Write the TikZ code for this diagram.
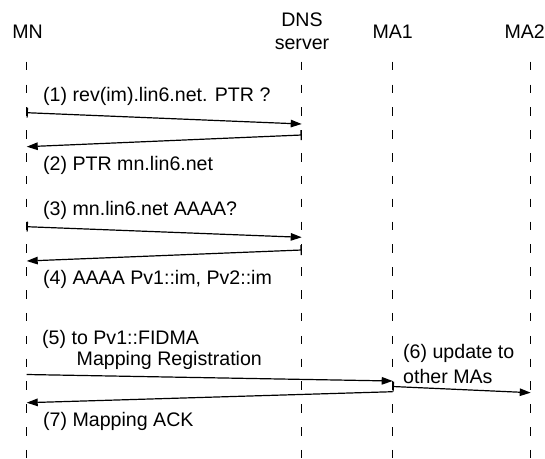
\documentclass[tikz,border=0pt]{standalone}
\usepackage{fontspec}
\setmainfont{Liberation Sans}
\usetikzlibrary{arrows.meta}
\begin{document}
\begin{tikzpicture}[x=1pt,y=-1pt,
  txt/.style={inner sep=0pt, font=\fontsize{19.6}{23}\selectfont},
  lbl/.style={txt, anchor=base west},
  hdr/.style={txt, anchor=base},
  life/.style={line width=1.5pt, dash pattern=on 8.5pt off 14.34pt},
  msg/.style={line width=1.2pt, -{Triangle[length=11pt,width=7.5pt]}},
  msgt/.style={line width=1.2pt, {Bar[width=10pt]}-{Triangle[length=11pt,width=7.5pt]}}
]
\useasboundingbox (0,0) rectangle (545,458);

% participants
\node[hdr] (mn) at (27.5,38.8) {MN};
\node[hdr] (dns) at (302,26.7) {DNS};
\node[hdr] (dnssrv) at (302,49) {server};
\node[hdr] (ma1) at (392.7,38.8) {MA1};
\node[txt, anchor=base east] (ma2) at (545,38.8) {MA2};

% lifelines
\foreach \n/\x in {mn/26.7, dns/301.7, ma1/392.7, ma2/530.7} {
  \coordinate (\n T) at (\x,61.7);
  \coordinate (\n B) at (\x,462);
  \draw[life] (\n T) -- (\n B);
}

% message end points on the lifelines
\coordinate (p1s) at (mnT |- 0,112.7);  \coordinate (p1e) at (dnsT |- 0,124);
\coordinate (p2s) at (dnsT |- 0,135);   \coordinate (p2e) at (mnT |- 0,146.7);
\coordinate (p3s) at (mnT |- 0,226.7);  \coordinate (p3e) at (dnsT |- 0,237.3);
\coordinate (p4s) at (dnsT |- 0,250);   \coordinate (p4e) at (mnT |- 0,261);
\coordinate (p5s) at (mnT |- 0,374.5);  \coordinate (p5e) at (ma1T |- 0,381);
\coordinate (p6s) at (ma1T |- 0,386.5); \coordinate (p6e) at (ma2T |- 0,392.7);
\coordinate (p7s) at (ma1T |- 0,391.7); \coordinate (p7e) at (mnT |- 0,402.7);

% messages
\draw[msgt] (p1s) -- (p1e);
\draw[msgt] (p2s) -- (p2e);
\draw[msgt] (p3s) -- (p3e);
\draw[msgt] (p4s) -- (p4e);
\draw[msg]  (p5s) -- (p5e);
\draw[msgt] (p6s) -- (p6e);
\draw[msg]  (p7s) -- (p7e);

% message labels
\node[lbl] (t1) at (43,101) {(1) rev(im).lin6.net. PTR ?};
\node[lbl] (t2) at (43,170) {(2) PTR mn.lin6.net};
\node[lbl] (t3) at (43,215) {(3) mn.lin6.net AAAA?};
\node[lbl] (t4) at (43,284) {(4) AAAA Pv1::im, Pv2::im};
\node[lbl] (t5) at (42,344) {(5) to Pv1::FIDMA};
\node[lbl] (t5b) at (76.5,365) {Mapping Registration};
\node[lbl] (t6) at (403,358.3) {(6) update to};
\node[lbl] (t6b) at (403,383.3) {other MAs};
\node[lbl] (t7) at (43,426.7) {(7) Mapping ACK};
\end{tikzpicture}
\end{document}
